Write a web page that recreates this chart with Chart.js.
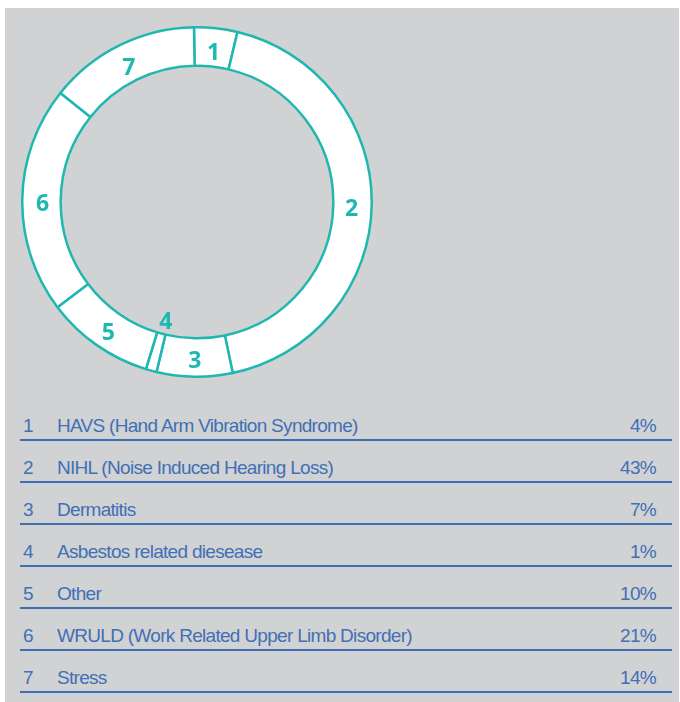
<!DOCTYPE html>
<html>
<head>
<meta charset="utf-8">
<script src="https://cdn.jsdelivr.net/npm/chart.js@4/dist/chart.umd.min.js"></script>
<style>
  html, body { margin: 0; padding: 0; background: #ffffff; width: 680px; height: 702px; overflow: hidden; }
  #panel { position: absolute; left: 5px; top: 8px; width: 674px; height: 694px; background: #d1d2d4; }
  #donutWrap { position: absolute; left: 21px; top: 26px; width: 352px; height: 352px; }
  #table { position: absolute; left: 20px; top: 399px; width: 652px; }
  .row { position: relative; height: 40px; border-bottom: 2px solid #3f6fb2; font-family: "Liberation Sans", Arial, sans-serif; font-size: 19px; line-height: 22px; color: #4170b4; letter-spacing: -0.7px; }
  .row span { position: absolute; top: 16px; white-space: nowrap; }
  .num { left: 3px; }
  .lab { left: 37px; }
  .pct { right: 16px; }
</style>
</head>
<body>
<div id="panel"></div>
<div id="donutWrap"><canvas id="c" width="352" height="352"></canvas></div>
<div id="table"></div>
<script>
const numbers = ["1", "2", "3", "4", "5", "6", "7"];
const categories = [
  "HAVS (Hand Arm Vibration Syndrome)",
  "NIHL (Noise Induced Hearing Loss)",
  "Dermatitis",
  "Asbestos related diesease",
  "Other",
  "WRULD (Work Related Upper Limb Disorder)",
  "Stress"
];
const values = [4, 43, 7, 1, 10, 21, 14];

const teal = "#1fb8b0";

const labelPlugin = {
  id: "ringLabels",
  afterDatasetsDraw(chart) {
    const ctx = chart.ctx;
    const meta = chart.getDatasetMeta(0);
    ctx.save();
    ctx.fillStyle = teal;
    ctx.font = "bold 23px 'Open Sans', sans-serif";
    ctx.textAlign = "center";
    ctx.textBaseline = "middle";
    meta.data.forEach((arc, i) => {
      const p = arc.getProps(["x", "y", "startAngle", "endAngle", "innerRadius", "outerRadius"], true);
      const mid = (p.startAngle + p.endAngle) / 2;
      const narrow = (p.endAngle - p.startAngle) < 0.1;
      const r = narrow ? p.innerRadius - 17 : (p.innerRadius + p.outerRadius) / 2 - 1;
      ctx.fillText(numbers[i], p.x + Math.cos(mid) * r, p.y + Math.sin(mid) * r + 5);
    });
    ctx.restore();
  }
};

new Chart(document.getElementById("c"), {
  type: "doughnut",
  data: {
    labels: categories,
    datasets: [{
      data: values,
      backgroundColor: "#ffffff",
      borderColor: teal,
      borderWidth: 2.5,
      hoverOffset: 0
    }]
  },
  options: {
    responsive: false,
    animation: false,
    cutout: "78%",
    rotation: -1,
    layout: { padding: 0 },
    plugins: { legend: { display: false }, tooltip: { enabled: false } }
  },
  plugins: [labelPlugin]
});

const table = document.getElementById("table");
categories.forEach((c, i) => {
  const row = document.createElement("div");
  row.className = "row";
  row.innerHTML = '<span class="num"></span><span class="lab"></span><span class="pct"></span>';
  row.querySelector(".num").textContent = numbers[i];
  row.querySelector(".lab").textContent = c;
  row.querySelector(".pct").textContent = values[i] + "%";
  table.appendChild(row);
});
</script>
</body>
</html>
